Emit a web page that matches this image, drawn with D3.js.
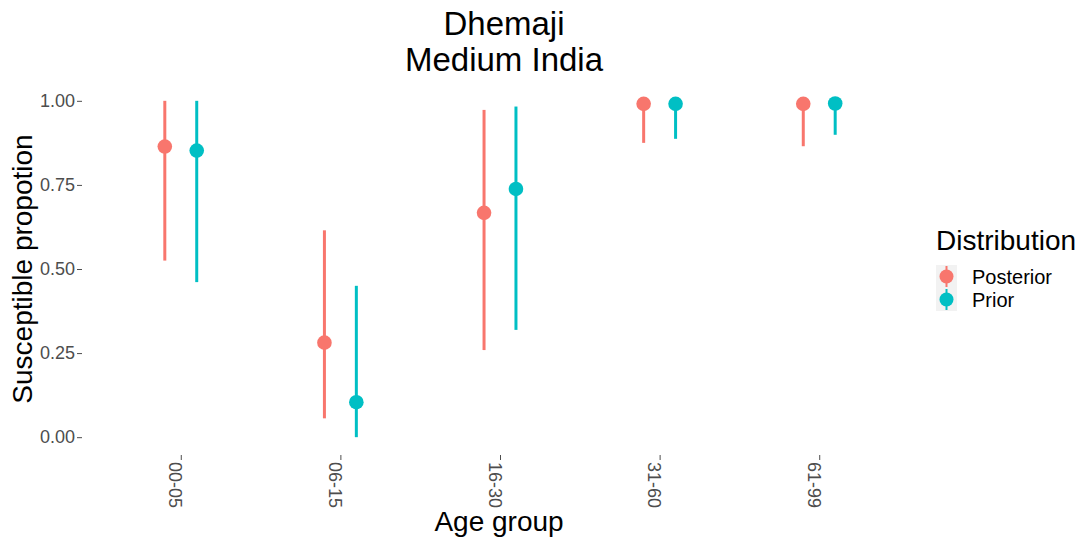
<!DOCTYPE html>
<html>
<head>
<meta charset="utf-8">
<script src="https://cdn.jsdelivr.net/npm/d3@7/dist/d3.min.js"></script>
<style>
  html, body { margin: 0; padding: 0; background: #fff; }
  svg { display: block; font-family: "Liberation Sans", Arial, sans-serif; }
</style>
</head>
<body>
<svg id="chart" width="1078" height="540"></svg>
<script>
// Age groups and interval summaries for each distribution
const ageGroups = ["00-05", "06-15", "16-30", "31-60", "61-99"];
const seriesNames = ["Posterior", "Prior"];
const seriesColors = ["#F8766D", "#00BFC4"];

const posteriorMid  = [0.864, 0.281, 0.667, 0.991, 0.991];
const posteriorLow  = [0.525, 0.056, 0.259, 0.875, 0.865];
const posteriorHigh = [1.000, 0.615, 0.973, 1.000, 1.000];

const priorMid  = [0.852, 0.104, 0.738, 0.991, 0.992];
const priorLow  = [0.461, 0.000, 0.319, 0.887, 0.899];
const priorHigh = [1.000, 0.450, 0.983, 1.000, 1.000];

const yTicks = [0, 0.25, 0.5, 0.75, 1];

const rows = [];
ageGroups.forEach((g, i) => {
  rows.push({ group: g, series: "Posterior", mid: posteriorMid[i], low: posteriorLow[i], high: posteriorHigh[i] });
  rows.push({ group: g, series: "Prior", mid: priorMid[i], low: priorLow[i], high: priorHigh[i] });
});

const svg = d3.select("#chart");
const panel = { left: 85, right: 915, top: 84, bottom: 454 };

const x = d3.scalePoint().domain(ageGroups).range([panel.left, panel.right]).padding(0.6);
const step = x.step();
const dodge = d3.scalePoint().domain(seriesNames).range([-0.1 * step, 0.1 * step]);
const y = d3.scaleLinear().domain([-0.05, 1.05]).range([panel.bottom, panel.top]);
const color = d3.scaleOrdinal().domain(seriesNames).range(seriesColors);

const textGrey = "#4D4D4D";

// Y axis
const yAxis = svg.append("g").attr("transform", `translate(${panel.left - 3},0)`)
  .call(d3.axisLeft(y).tickValues(yTicks).tickFormat(d3.format(".2f")).tickSize(5).tickPadding(2));
yAxis.select(".domain").remove();
yAxis.selectAll(".tick line").attr("stroke", textGrey);
yAxis.selectAll(".tick text").attr("fill", textGrey).style("font-size", "18px")
  .style("font-family", "Liberation Sans, Arial, sans-serif");

// X axis with labels rotated to read downward
const xAxis = svg.append("g").attr("transform", `translate(0,${panel.bottom + 1})`)
  .call(d3.axisBottom(x).tickSize(5).tickPadding(0));
xAxis.select(".domain").remove();
xAxis.selectAll(".tick line").attr("stroke", textGrey);
xAxis.selectAll(".tick text")
  .attr("fill", textGrey).style("font-size", "18px")
  .style("font-family", "Liberation Sans, Arial, sans-serif")
  .attr("text-anchor", "start")
  .attr("dy", null)
  .attr("y", 0)
  .attr("dominant-baseline", "central")
  .attr("transform", "translate(-6,7) rotate(90)");

// Intervals and points
const marks = svg.append("g");
marks.selectAll("line.range").data(rows).join("line")
  .attr("class", "range")
  .attr("x1", d => x(d.group) + dodge(d.series))
  .attr("x2", d => x(d.group) + dodge(d.series))
  .attr("y1", d => y(d.low))
  .attr("y2", d => y(d.high))
  .attr("stroke", d => color(d.series))
  .attr("stroke-width", 3);
marks.selectAll("circle.mid").data(rows).join("circle")
  .attr("class", "mid")
  .attr("cx", d => x(d.group) + dodge(d.series))
  .attr("cy", d => y(d.mid))
  .attr("r", 7.3)
  .attr("fill", d => color(d.series));

// Titles
svg.append("text").attr("x", 504).attr("y", 35).attr("text-anchor", "middle")
  .style("font-size", "33px").attr("fill", "#000").text("Dhemaji");
svg.append("text").attr("x", 504).attr("y", 71).attr("text-anchor", "middle")
  .style("font-size", "33px").attr("fill", "#000").text("Medium India");

svg.append("text").attr("x", 499).attr("y", 531).attr("text-anchor", "middle")
  .style("font-size", "28px").attr("fill", "#000").text("Age group");

svg.append("text")
  .attr("transform", `translate(32,${(panel.top + panel.bottom) / 2}) rotate(-90)`)
  .attr("text-anchor", "middle")
  .style("font-size", "28px").attr("fill", "#000").text("Susceptible propotion");

// Legend
const legend = svg.append("g").attr("transform", "translate(936,0)");
legend.append("text").attr("x", 0).attr("y", 250)
  .style("font-size", "28px").attr("fill", "#000").text("Distribution");
const keys = legend.selectAll("g.key").data(seriesNames).join("g")
  .attr("class", "key")
  .attr("transform", (d, i) => `translate(0,${265 + i * 23})`);
keys.append("rect").attr("width", 21).attr("height", 23).attr("fill", "#F2F2F2");
keys.append("line").attr("x1", 10.5).attr("x2", 10.5).attr("y1", 1).attr("y2", 22)
  .attr("stroke", d => color(d)).attr("stroke-width", 2);
keys.append("circle").attr("cx", 10.5).attr("cy", 11.5).attr("r", 7)
  .attr("fill", d => color(d));
keys.append("text").attr("x", 36).attr("y", 11.5).attr("dominant-baseline", "central")
  .style("font-size", "20px").attr("fill", "#000").text(d => d);
</script>
</body>
</html>
